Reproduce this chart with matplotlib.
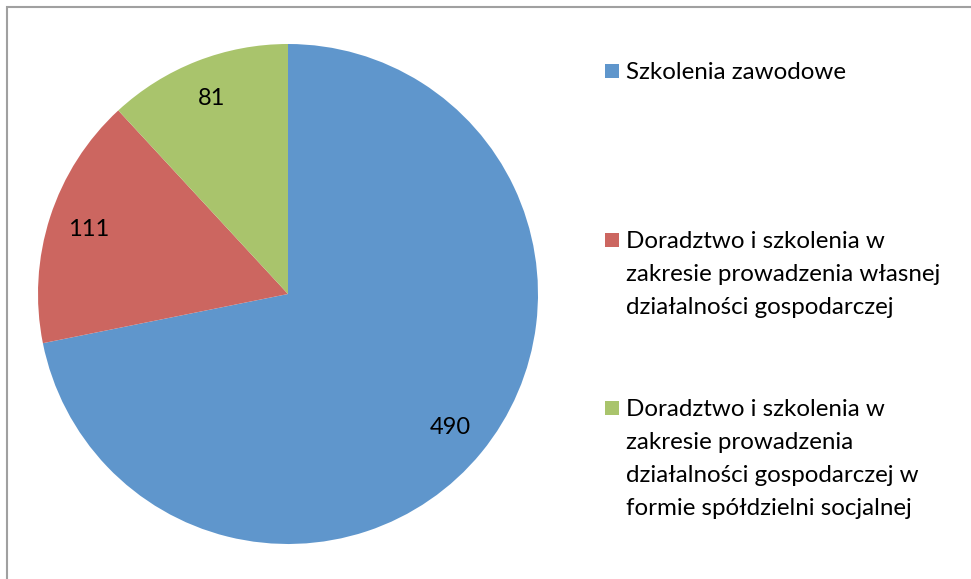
import matplotlib.pyplot as plt
from matplotlib.patches import Rectangle

# data
labels = ["Szkolenia zawodowe",
          "Doradztwo i szkolenia w\nzakresie prowadzenia własnej\ndziałalności gospodarczej",
          "Doradztwo i szkolenia w\nzakresie prowadzenia\ndziałalności gospodarczej w\nformie spółdzielni socjalnej"]
values = [490, 111, 81]
colors = ["#5f96cc", "#cc6660", "#a9c46c"]

plt.rcParams['font.family'] = ['Lato', 'DejaVu Sans']

W, H = 971, 579
fig = plt.figure(figsize=(W / 100, H / 100), dpi=100)

# gray frame (cut off at right and bottom)
fig.patches.append(Rectangle((7 / W, -0.1), 1.2, 1.1 - 7 / H, transform=fig.transFigure,
                             fill=False, edgecolor="#a0a0a0", linewidth=1.5))

# pie area: center (288, 294), radius 250 px
ax = fig.add_axes([38 / W, (H - 544) / H, 500 / W, 500 / H])
ax.pie(values, colors=colors, startangle=90, counterclock=False,
       autopct=lambda p: "%d" % round(p * sum(values) / 100), pctdistance=0.84,
       textprops={'fontsize': 17, 'color': 'black'})
ax.set_xlim(-1, 1)
ax.set_ylim(-1, 1)
ax.set_aspect('equal')

# legend drawn by hand
tops = [62, 231, 399]
for lab, col, top in zip(labels, colors, tops):
    fig.patches.append(Rectangle((605 / W, (H - top - 16) / H), 14 / W, 14 / H,
                                 transform=fig.transFigure, facecolor=col, edgecolor='none'))
    fig.text(626 / W, (H - top) / H, lab, fontsize=17.4, va='top', ha='left', linespacing=1.7)

fig.savefig("out.png", dpi=100)
